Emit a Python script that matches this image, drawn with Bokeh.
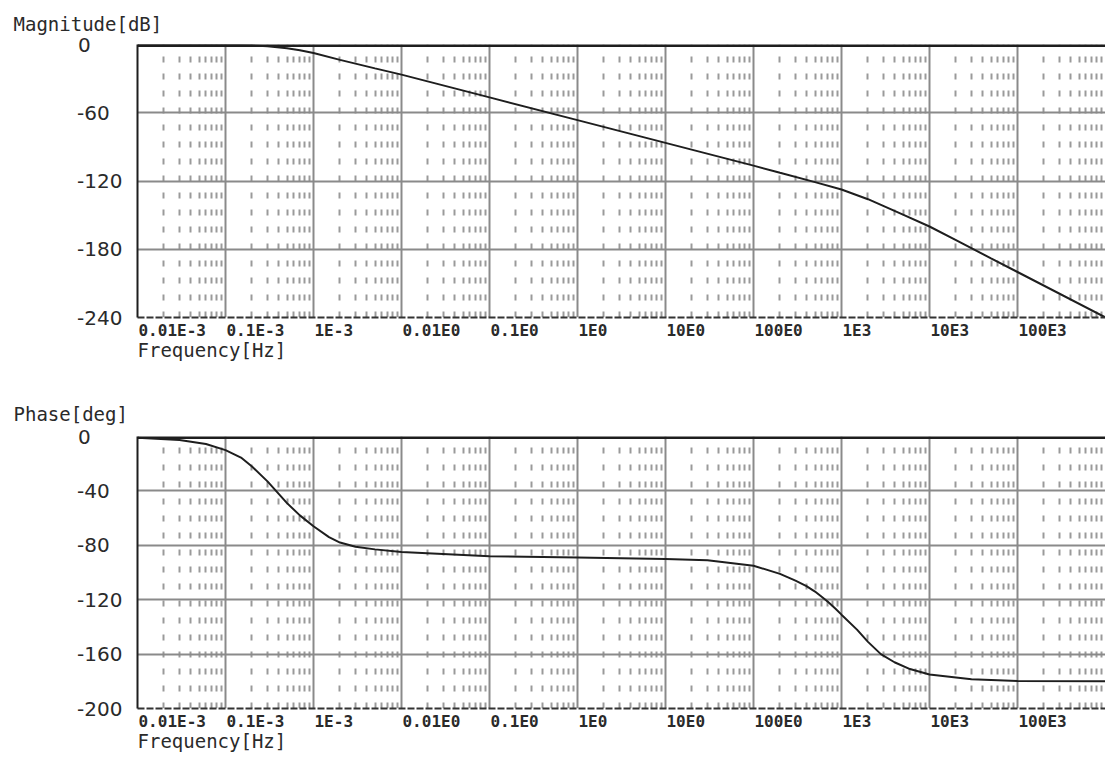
from bokeh.plotting import figure
from bokeh.models import FixedTicker, Span, Title, CustomJSTickFormatter
from bokeh.layouts import column
from bokeh.embed import file_html
from bokeh.resources import INLINE

# ---------------- data ----------------
decade_ticks = [1e-5, 1e-4, 1e-3, 1e-2, 1e-1, 1e0, 1e1, 1e2, 1e3, 1e4, 1e5, 1e6]
decade_labels = ["0.01E-3", "0.1E-3", "1E-3", "0.01E0", "0.1E0", "1E0",
                 "10E0", "100E0", "1E3", "10E3", "100E3"]
minor_ticks = [k * 10.0 ** e for e in range(-5, 6) for k in range(2, 10)]

mag_ticks = [0, -60, -120, -180, -240]
phase_ticks = [0, -40, -80, -120, -160, -200]

mag_freq = [1e-5, 1e-4, 2e-4, 3e-4, 5e-4, 7e-4, 1e-3, 2e-3, 5e-3, 1e-2,
            1e-1, 1e0, 1e1, 1e2, 2e2, 5e2, 1e3, 2e3, 5e3, 1e4,
            2e4, 5e4, 1e5, 1e6]
mag_db = [0, -0.2, -0.7, -1.6, -3.2, -5, -7.5, -13.5, -21, -26.5,
          -46.5, -66.5, -86.5, -106.5, -112.8, -121, -127.5, -136, -149.5, -160,
          -172, -188, -200, -240]

phase_freq = [1e-5, 3e-5, 6e-5, 1e-4, 1.5e-4, 2e-4, 3e-4, 4e-4, 5e-4, 7e-4,
              1e-3, 1.5e-3, 2e-3, 3e-3, 5e-3, 1e-2, 1e-1, 1e0, 1e1, 3e1,
              1e2, 2e2, 3e2, 4e2, 5e2, 6e2, 7e2, 8.5e2, 1e3, 1.5e3,
              2e3, 2.8e3, 4e3, 6e3, 1e4, 3e4, 1e5, 1e6]
phase_deg = [-1, -2.5, -5.5, -10, -15.5, -22, -33, -42, -49, -58,
             -66, -74, -78, -81, -83, -85, -88, -89, -90, -91,
             -95, -101, -106, -110, -114, -118, -121.5, -126.5, -131, -142,
             -151, -160, -166, -171, -175, -178.5, -179.7, -180]

# ---------------- layout / style constants ----------------
W = 1105
LEFT = 137
FRAME_W = W - LEFT
DEC_PX = FRAME_W / 11.0

INK = "#1e1e1e"
TXT = "#2a2a2a"
MONO = "DejaVu Sans Mono"
XLAB_PX = 16          # x tick label font size
CHAR_W = 0.602        # DejaVu Sans Mono advance (em)

FIG_SP = "\u2007"     # figure space (digit width)
PUNC_SP = "\u2008"    # punctuation space


def pad_left_aligned(t):
    """pad a tick value so right-aligned labels look left-aligned"""
    s = str(t)
    digits = sum(ch.isdigit() for ch in s)
    pad = FIG_SP * (3 - digits)
    if not s.startswith("-"):
        pad += PUNC_SP
    return s + pad


# centres of the (left aligned) x labels, as frequencies
label_centres = [d * 10 ** ((1 + len(lab) * CHAR_W * XLAB_PX / 2) / DEC_PX)
                 for d, lab in zip(decade_ticks, decade_labels)]


def make_panel(title, yticks, xs, ys, height, top, bottom, title_standoff):
    ymin, ymax = yticks[-1], yticks[0]
    p = figure(width=W, height=height, x_axis_type="log",
               x_range=(1e-5, 1e6), y_range=(ymin, ymax),
               output_backend="svg", toolbar_location=None,
               min_border_left=LEFT, min_border_right=0,
               min_border_top=top, min_border_bottom=bottom)
    p.outline_line_color = None
    p.background_fill_color = "white"
    p.border_fill_color = "white"

    # ---- bottom axis: dashed border + left aligned decade labels
    xa = p.xaxis[0]
    xa.ticker = FixedTicker(ticks=label_centres)
    xa.formatter = CustomJSTickFormatter(
        args=dict(labels=decade_labels),
        code="return labels[Math.floor(Math.log10(tick) + 5 + 1e-9)];")
    xa.major_tick_line_color = None
    xa.minor_tick_line_color = None
    xa.major_tick_out = 0
    xa.major_label_standoff = 3
    xa.major_label_text_font = MONO
    xa.major_label_text_font_size = f"{XLAB_PX}px"
    xa.major_label_text_font_style = "bold"
    xa.major_label_text_color = TXT
    xa.axis_line_color = "#333333"
    xa.axis_line_width = 2
    xa.axis_line_dash = "7 2"

    # ---- left axis: solid border + value labels
    ya = p.yaxis[0]
    ya.ticker = FixedTicker(ticks=yticks)
    ya.major_label_overrides = {t: pad_left_aligned(t) for t in yticks}
    ya.major_tick_line_color = None
    ya.minor_tick_line_color = None
    ya.major_tick_out = 0
    ya.major_label_standoff = 15
    ya.major_label_text_font = "DejaVu Sans"
    ya.major_label_text_font_size = "20px"
    ya.major_label_text_color = TXT
    ya.axis_line_color = INK
    ya.axis_line_width = 2

    # ---- grids
    p.xgrid.ticker = FixedTicker(ticks=decade_ticks, minor_ticks=minor_ticks)
    p.xgrid.grid_line_color = "#8a8a8a"
    p.xgrid.grid_line_width = 2
    p.xgrid.minor_grid_line_color = "#9a9a9a"
    p.xgrid.minor_grid_line_width = 2
    p.xgrid.minor_grid_line_dash = "6 11"
    p.ygrid.ticker = FixedTicker(ticks=yticks)
    p.ygrid.grid_line_color = "#8a8a8a"
    p.ygrid.grid_line_width = 2

    # top border
    p.add_layout(Span(location=ymax, dimension="width",
                      line_color=INK, line_width=5))

    # curve
    p.line(xs, ys, line_color=INK, line_width=2)

    # titles
    p.add_layout(Title(text=title, align="left", offset=13 - LEFT,
                       standoff=title_standoff, text_font=MONO,
                       text_font_size="19px", text_font_style="normal",
                       text_color=TXT), "above")
    p.add_layout(Title(text="Frequency[Hz]", align="left", offset=0,
                       standoff=-7, vertical_align="top", text_font=MONO,
                       text_font_size="19px", text_font_style="normal",
                       text_color=TXT), "below")
    return p


p1 = make_panel("Magnitude[dB]", mag_ticks, mag_freq, mag_db,
                height=380, top=44, bottom=63, title_standoff=20)
p2 = make_panel("Phase[deg]", phase_ticks, phase_freq, phase_deg,
                height=378, top=56, bottom=50, title_standoff=24)

layout = column(p1, p2, spacing=0)
open("out.html", "w").write(file_html(layout, INLINE))
